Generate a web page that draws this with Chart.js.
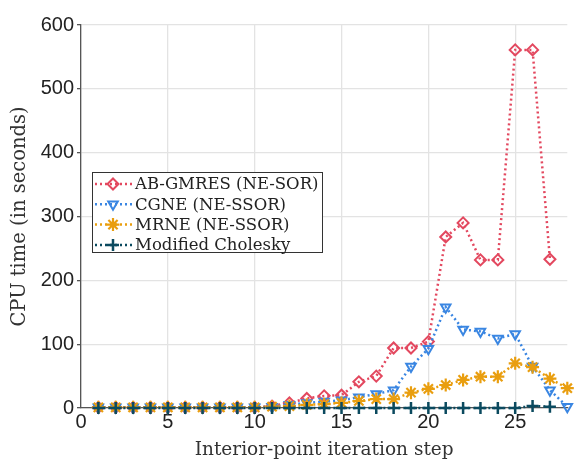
<!DOCTYPE html>
<html>
<head>
<meta charset="utf-8">
<script src="https://cdn.jsdelivr.net/npm/chart.js@4.4.0/dist/chart.umd.min.js"></script>
<style>
  html, body { margin: 0; padding: 0; background: #fff; }
  #wrap { width: 576px; height: 461px; }
</style>
</head>
<body>
<div id="wrap"><canvas id="myChart" width="576" height="461"></canvas></div>
<script>
// iteration steps
var steps = [1, 2, 3, 4, 5, 6, 7, 8, 9, 10, 11, 12, 13, 14, 15, 16, 17, 18, 19, 20, 21, 22, 23, 24, 25, 26, 27, 28];

var abgmres = [1, 1, 1, 1, 1, 1, 1, 1, 1, 1, 3, 8, 15, 19, 20, 41, 50, 94, 94, 104, 268, 290, 232, 232, 561, 561, 233];
var cgne = [1, 1, 1, 1, 1, 1, 1, 1, 1, 1, 2, 5, 8, 10, 12, 17, 22, 28, 65, 93, 158, 123, 120, 109, 116, 65, 28, 2];
var mrne = [1, 1, 1, 1, 1, 1, 1, 1, 1, 1, 2, 3, 5, 6, 8, 11, 14, 14, 24, 30, 36, 44, 49, 49, 70, 64, 46, 31];
var cholesky = [0, 0, 0, 0, 0, 0, 0, 0, 0, 0, 0, 0, 0, 0, 0, 0, 0, 0, 0, 0, 0, 0, 0, 0, 0, 3, 2];

var yTicks = [0, 100, 200, 300, 400, 500, 600];
var xTicks = [0, 5, 10, 15, 20, 25];

function pts(vals) {
  return vals.map(function (v, i) {
    return { x: steps[i], y: v };
  });
}

var serif = "'DejaVu Serif', 'Liberation Serif', serif";
var sans = "'Liberation Sans', Arial, sans-serif";

function series(label, vals, color, style, rot, radius, bw, fill, order) {
  return {
    label: label,
    data: pts(vals),
    order: order,
    borderColor: color,
    backgroundColor: fill,
    borderWidth: 2.5,
    borderDash: [2, 3],
    pointStyle: style,
    pointRotation: rot,
    pointRadius: radius,
    pointBorderWidth: bw,
    pointBorderColor: color,
    pointBackgroundColor: fill,
    tension: 0,
    clip: false
  };
}

// legend drawn inside the plot, like the original
var boxLegend = {
  id: "boxLegend",
  afterDraw: function (chart) {
    var ctx = chart.ctx;
    var x0 = 92, y0 = 172, w = 230, h = 80;
    ctx.save();
    ctx.fillStyle = "#fff";
    ctx.fillRect(x0, y0, w, h);
    ctx.strokeStyle = "#333";
    ctx.lineWidth = 1;
    ctx.strokeRect(x0 + 0.5, y0 + 0.5, w, h);
    chart.data.datasets.forEach(function (ds, i) {
      var cy = y0 + 12 + i * 20.3;
      ctx.strokeStyle = ds.borderColor;
      ctx.lineWidth = 2.5;
      ctx.setLineDash([2, 3]);
      ctx.beginPath();
      ctx.moveTo(x0 + 3, cy);
      ctx.lineTo(x0 + 40, cy);
      ctx.stroke();
      ctx.setLineDash([]);
      ctx.fillStyle = ds.pointBackgroundColor;
      ctx.lineWidth = ds.pointBorderWidth;
      Chart.helpers.drawPoint(ctx, {
        pointStyle: ds.pointStyle,
        rotation: ds.pointRotation,
        radius: ds.pointRadius,
        borderWidth: ds.pointBorderWidth
      }, x0 + 21, cy);
      ctx.fillStyle = "#222";
      ctx.font = "16.5px " + serif;
      ctx.textBaseline = "middle";
      ctx.textAlign = "left";
      ctx.fillText(ds.label, x0 + 43, cy + 1);
    });
    ctx.restore();
  }
};

const ctx = document.getElementById("myChart");

new Chart(ctx, {
  type: "line",
  data: {
    datasets: [
      series("AB-GMRES (NE-SOR)", abgmres, "#e3485f", "rectRot", 0, 5.5, 2, "rgba(255,255,255,0)", 3),
      series("CGNE (NE-SSOR)", cgne, "#3a86e2", "triangle", 180, 5.5, 2, "rgba(255,255,255,0)", 2),
      series("MRNE (NE-SSOR)", mrne, "#e99e0f", "star", 0, 6.5, 2.2, "#e99e0f", 1),
      series("Modified Cholesky", cholesky, "#0b4a5f", "cross", 0, 6, 2.5, "#0b4a5f", 0)
    ]
  },
  options: {
    responsive: false,
    animation: false,
    layout: { padding: { top: 25, right: 4, left: 0, bottom: 0 } },
    plugins: {
      legend: { display: false },
      tooltip: { enabled: false }
    },
    scales: {
      x: {
        type: "linear",
        min: 0,
        max: 28,
        afterBuildTicks: function (axis) {
          axis.ticks = xTicks.map(function (v) { return { value: v }; });
        },
        afterFit: function (axis) { axis.height = 53; },
        grid: {
          color: "#e3e3e3",
          lineWidth: 1.3,
          tickLength: 0,
          drawTicks: false
        },
        border: { color: "#555", width: 1.3 },
        ticks: {
          color: "#222",
          font: { family: sans, size: 20 },
          padding: 2,
          maxRotation: 0
        },
        title: {
          display: true,
          text: "Interior-point iteration step",
          color: "#333",
          font: { family: serif, size: 18.5 },
          padding: { top: -3, bottom: 0 }
        }
      },
      y: {
        min: 0,
        max: 600,
        afterBuildTicks: function (axis) {
          axis.ticks = yTicks.map(function (v) { return { value: v }; });
        },
        afterFit: function (axis) { axis.width = 81; },
        grid: {
          color: "#e3e3e3",
          lineWidth: 1.3,
          tickColor: "#555",
          tickLength: 4
        },
        border: { color: "#555", width: 1.3 },
        ticks: {
          color: "#222",
          font: { family: sans, size: 20 },
          padding: 3
        },
        title: {
          display: true,
          text: "CPU time (in seconds)",
          color: "#333",
          font: { family: serif, size: 19.5 },
          padding: { top: 8, bottom: 2 }
        }
      }
    }
  },
  plugins: [boxLegend]
});
</script>
</body>
</html>
